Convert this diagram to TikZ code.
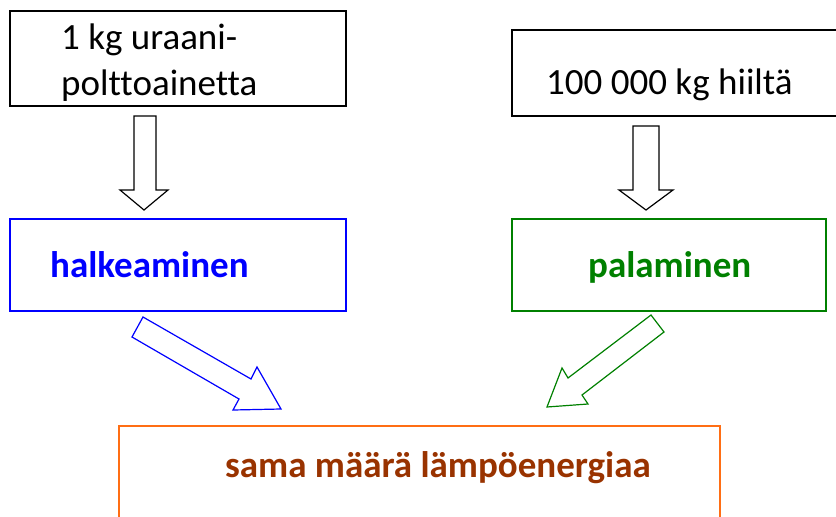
\documentclass[tikz,border=0pt]{standalone}
\usepackage{fontspec}
\setmainfont[Ligatures=NoCommon]{Carlito}
\definecolor{myblue}{RGB}{0,0,255}
\definecolor{mygreen}{RGB}{0,128,0}
\definecolor{myorange}{RGB}{255,110,20}
\definecolor{mybrown}{RGB}{153,51,0}
\begin{document}
\begin{tikzpicture}[x=1pt,y=-1pt,
  boxline/.style={line width=1.3pt},
  blockarrow/.style={line width=1.2pt, fill=white, line join=miter},
  plain/.style={font=\fontsize{37}{44}\selectfont, inner sep=0pt, anchor=base west},
  bold/.style={font=\fontsize{37}{44}\selectfont\bfseries, inner sep=0pt, anchor=base west}]
\useasboundingbox (0,0) rectangle (836,517);
\clip (0,0) rectangle (836,517);
% boxes
\draw[boxline] (10,11) rectangle (346,106);
\draw[boxline] (840,30) -- (512,30) -- (512,116) -- (840,116);
\draw[boxline, draw=myblue] (10,219) rectangle (346,311);
\draw[boxline, draw=mygreen] (512,219) rectangle (826,311);
\draw[boxline, draw=myorange] (119,530) -- (119,426) -- (720,426) -- (720,530);
% texts
\node[plain] (t1) at (61,49) {1 kg uraani-};
\node[plain] (t2) at (61,95) {polttoainetta};
\node[plain] (t3) at (546,94) {100 000 kg hiiltä};
\node[bold, text=myblue] (t4) at (50,277) {halkeaminen};
\node[bold, text=mygreen] (t5) at (588,277) {palaminen};
\node[bold, text=mybrown] (t6) at (225,477) {sama määrä lämpöenergiaa};
% block arrows
\draw[blockarrow] (134,116) -- (156,116) -- (156,190) -- (168,190) -- (144,210) -- (120,190) -- (134,190) -- cycle;
\draw[blockarrow] (633,126) -- (659,126) -- (659,190) -- (673,190) -- (646,210) -- (619,190) -- (633,190) -- cycle;
\draw[blockarrow, draw=myblue] (143,317) -- (251,379) -- (257,367) -- (281,409) -- (233,410) -- (239,399) -- (132,337) -- cycle;
\draw[blockarrow, draw=mygreen] (651,315) -- (664,332) -- (582,395) -- (588,404) -- (547,407) -- (562,368) -- (568,378) -- cycle;
\end{tikzpicture}
\end{document}
